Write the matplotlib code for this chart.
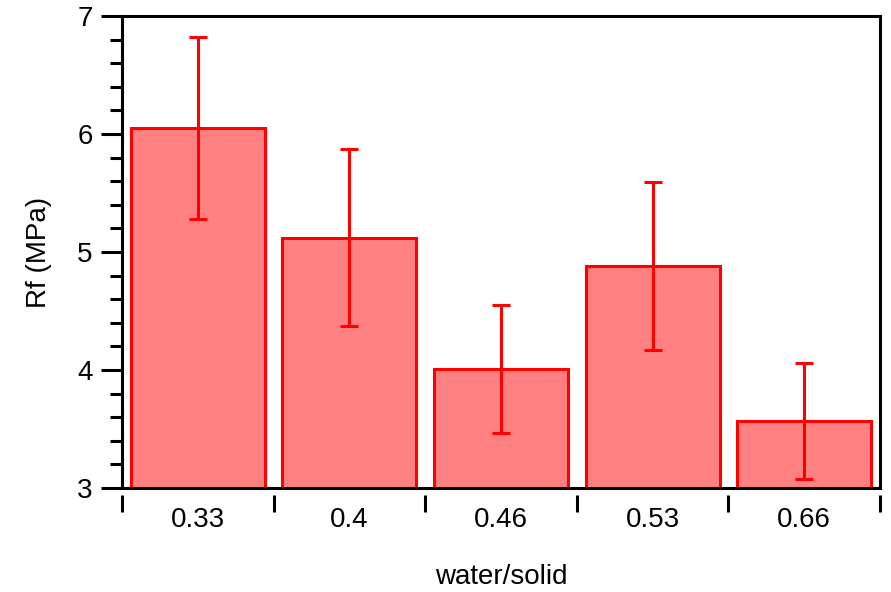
import matplotlib
matplotlib.use("Agg")
import matplotlib.pyplot as plt
from matplotlib.ticker import MultipleLocator, FixedLocator
import numpy as np

plt.rcParams["font.family"] = ["Liberation Sans", "DejaVu Sans"]

# data
categories = ["0.33", "0.4", "0.46", "0.53", "0.66"]
rf_mean = [6.05, 5.12, 4.01, 4.88, 3.57]
rf_err = [0.77, 0.75, 0.54, 0.71, 0.49]

W, H = 891, 592
fig = plt.figure(figsize=(W / 100, H / 100), dpi=100)
ax = fig.add_axes([122 / W, 1 - 488 / H, (880 - 122) / W, (488 - 16) / H])

x = np.arange(len(categories))
ax.bar(x, rf_mean, width=0.885, bottom=0, color="#ff8080",
       edgecolor="#ff0000", linewidth=2.2, zorder=2)
ax.errorbar(x, rf_mean, yerr=rf_err, fmt="none", ecolor="#ff0000",
            elinewidth=2.2, capsize=6.5, capthick=2.2, zorder=3)

ax.set_ylim(3, 7)
ax.set_xlim(-0.5, len(categories) - 0.5)

# y axis
ax.yaxis.set_major_locator(MultipleLocator(1))
ax.yaxis.set_minor_locator(MultipleLocator(0.2))
ax.tick_params(axis="y", which="major", direction="out", length=15,
               width=2.2, labelsize=20, pad=6)
ax.tick_params(axis="y", which="minor", direction="out", length=9, width=2.2)

# frame
for side in ["left", "top", "right"]:
    ax.spines[side].set_linewidth(2.2)
ax.spines["bottom"].set_position(("outward", 5))
ax.spines["bottom"].set_visible(False)
ax.axhline(3, color="black", lw=2.2, clip_on=False, zorder=4)

# category axis: labels at centres, ticks at boundaries, offset below the frame
ax.set_xticks(x)
ax.set_xticklabels(categories)
ax.xaxis.set_minor_locator(FixedLocator(np.arange(len(categories) + 1) - 0.5))
ax.tick_params(axis="x", which="major", length=0, labelsize=20, pad=9)
ax.tick_params(axis="x", which="minor", direction="out", length=12, width=2.2)

ax.set_xlabel("water/solid", fontsize=20, labelpad=22)
ax.set_ylabel("Rf (MPa)", fontsize=20, labelpad=18)

fig.savefig("out.png", dpi=100)
